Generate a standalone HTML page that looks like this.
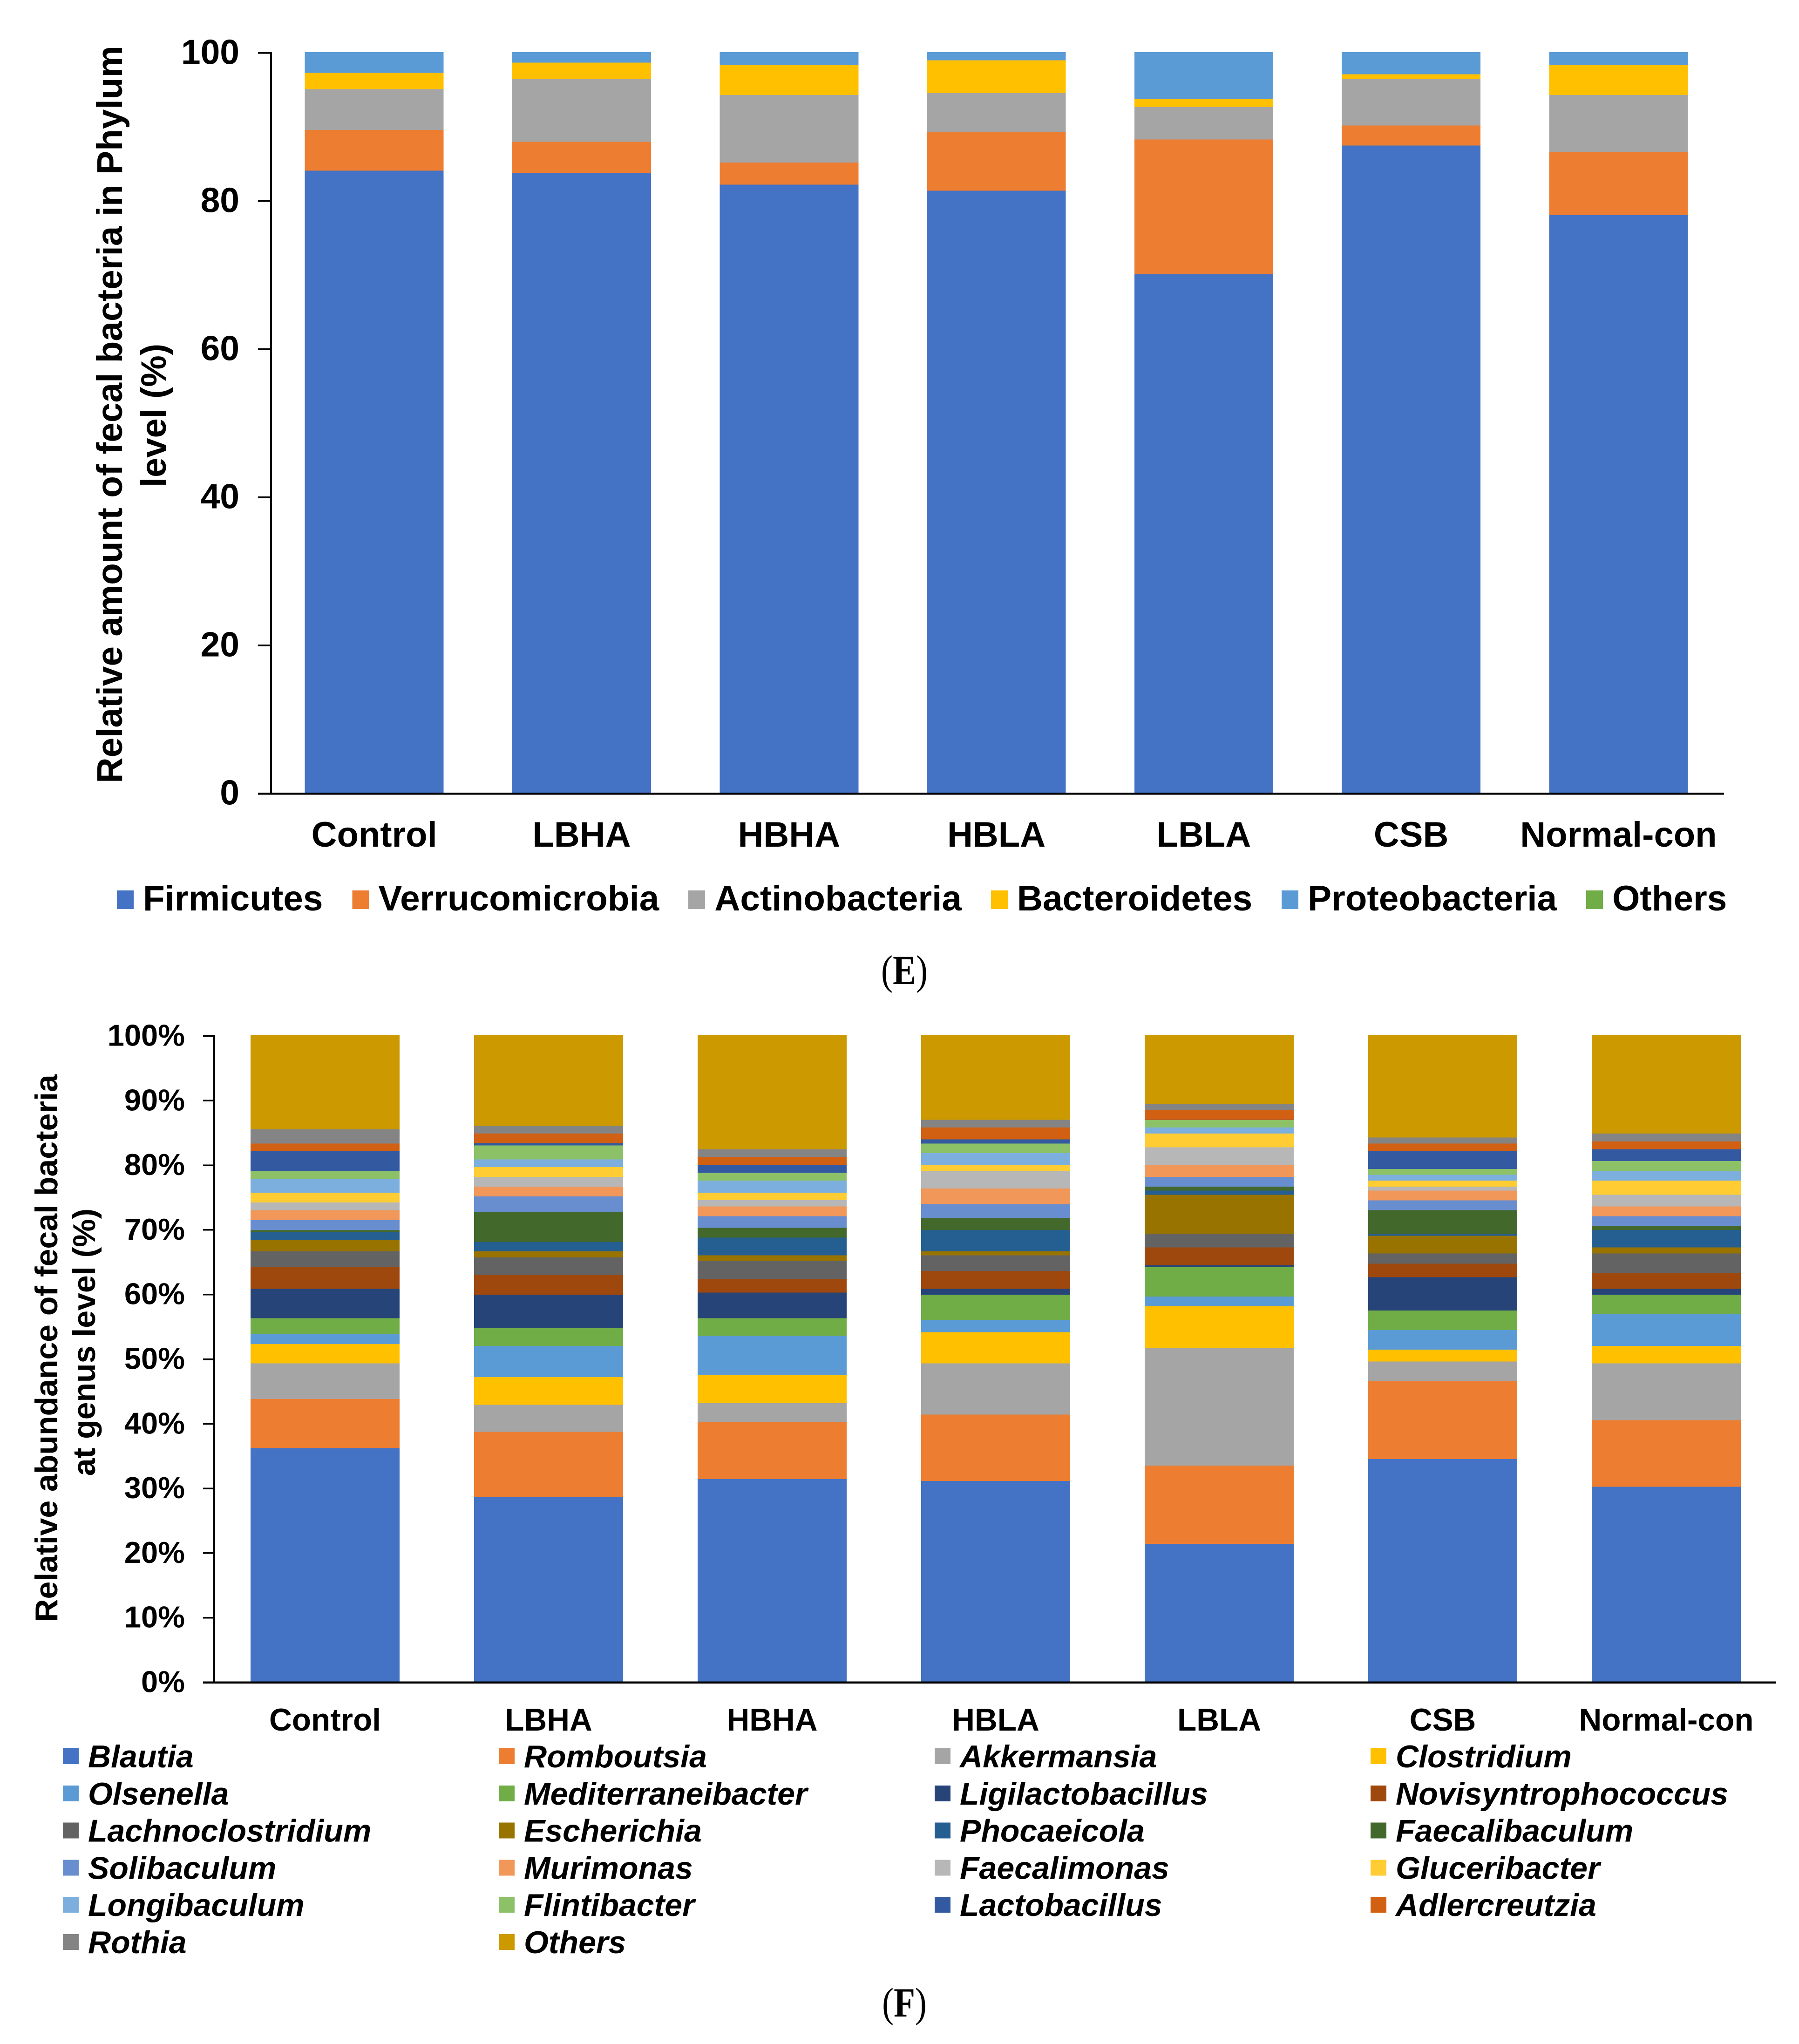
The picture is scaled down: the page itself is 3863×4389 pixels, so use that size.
<!DOCTYPE html>
<html lang="en">
<head>
<meta charset="utf-8">
<title>Relative abundance of fecal bacteria at phylum and genus level</title>
<style>
  html, body { margin: 0; padding: 0; background: #fff; }
  svg { display: block; }
  text { fill: #000; font-family: "Liberation Sans", sans-serif; font-weight: bold; }
  .serif { font-family: "Liberation Serif", serif; }
  .paren { font-weight: normal; }
</style>
</head>
<body>
<svg id="figure" xmlns="http://www.w3.org/2000/svg" width="3863" height="4389" viewBox="0 0 3863 4389">
  <rect x="0" y="0" width="3863" height="4389" fill="#ffffff"></rect>
  <g id="chartE">
    <text transform="translate(262,890) rotate(-90)" text-anchor="middle" font-size="76.6">Relative amount of fecal bacteria in Phylum</text>
    <text transform="translate(356,892) rotate(-90)" text-anchor="middle" font-size="76">level (%)</text>
  </g>
  <text class="serif" transform="translate(1942,2113) scale(1,1.18)" text-anchor="middle" font-size="75"><tspan class="paren">(</tspan>E<tspan class="paren">)</tspan></text>
  <g id="chartF">
    <text transform="translate(123,2895) rotate(-90)" text-anchor="middle" font-size="68">Relative abundance of fecal bacteria</text>
    <text transform="translate(204,2882) rotate(-90)" text-anchor="middle" font-size="68">at genus level (%)</text>
  </g>
  <text class="serif" transform="translate(1942,4330) scale(1,1.18)" text-anchor="middle" font-size="75"><tspan class="paren">(</tspan>F<tspan class="paren">)</tspan></text>
</svg>
<script>
/* ---------- shared categories ---------- */
const categories = ['Control', 'LBHA', 'HBHA', 'HBLA', 'LBLA', 'CSB', 'Normal-con'];

/* ---------- panel E: phylum level (%) ---------- */
const phylumNames = ['Firmicutes', 'Verrucomicrobia', 'Actinobacteria', 'Bacteroidetes', 'Proteobacteria', 'Others'];
const phylumColors = ['#4472C4', '#ED7D31', '#A5A5A5', '#FFC000', '#5B9BD5', '#70AD47'];
const firmicutes      = [84.0, 83.7, 82.1, 81.3, 70.0, 87.4, 78.0];
const verrucomicrobia = [5.5, 4.2, 3.0, 7.9, 18.2, 2.7, 8.5];
const actinobacteria  = [5.5, 8.5, 9.1, 5.3, 4.4, 6.3, 7.7];
const bacteroidetes   = [2.2, 2.2, 4.1, 4.4, 1.1, 0.6, 4.1];
const proteobacteria  = [2.8, 1.4, 1.7, 1.1, 6.3, 3.0, 1.7];
const phylumOthers    = [0, 0, 0, 0, 0, 0, 0];
const phylumTicks = [0, 20, 40, 60, 80, 100];

/* ---------- panel F: genus level (%) ---------- */
const genusNames = ['Blautia', 'Romboutsia', 'Akkermansia', 'Clostridium', 'Olsenella', 'Mediterraneibacter', 'Ligilactobacillus', 'Novisyntrophococcus', 'Lachnoclostridium', 'Escherichia', 'Phocaeicola', 'Faecalibaculum', 'Solibaculum', 'Murimonas', 'Faecalimonas', 'Gluceribacter', 'Longibaculum', 'Flintibacter', 'Lactobacillus', 'Adlercreutzia', 'Rothia', 'Others'];
const genusColors = ['#4472C4', '#ED7D31', '#A5A5A5', '#FFC000', '#5B9BD5', '#70AD47', '#264478', '#9E480E', '#636363', '#997300', '#255E91', '#43682B', '#698ED0', '#F1975A', '#B7B7B7', '#FFCD33', '#7CAFDD', '#8CC168', '#335AA1', '#D26012', '#848484', '#CC9A00'];
const blautia            = [36.1, 28.5, 31.3, 31.0, 21.3, 34.4, 30.1];
const romboutsia         = [7.6, 10.1, 8.8, 10.3, 12.1, 12.04, 10.3];
const akkermansia        = [5.5, 4.2, 3.0, 7.9, 18.23, 3.06, 8.8];
const clostridium        = [3.0, 4.27, 4.26, 4.85, 6.39, 1.83, 2.72];
const olsenella          = [1.55, 4.85, 6.11, 1.84, 1.51, 3.02, 4.89];
const mediterraneibacter = [2.45, 2.76, 2.72, 3.93, 4.56, 3.05, 3.01];
const ligilactobacillus  = [4.54, 5.15, 3.97, 0.92, 0.29, 5.14, 0.92];
const novisyntrophococcus = [3.35, 3.05, 2.13, 2.76, 2.76, 2.1, 2.43];
const lachnoclostridium  = [2.43, 2.72, 2.72, 2.43, 2.13, 1.56, 3.03];
const escherichia        = [1.8, 0.92, 0.92, 0.59, 6.03, 2.74, 0.94];
const phocaeicola        = [1.25, 1.47, 2.72, 3.34, 0.63, 0.3, 2.72];
const faecalibaculum     = [0.25, 4.59, 1.51, 1.84, 0.62, 3.67, 0.63];
const solibaculum        = [1.55, 2.47, 1.83, 2.13, 1.51, 1.51, 1.5];
const murimonas          = [1.51, 1.5, 1.51, 2.43, 1.84, 1.51, 1.51];
const faecalimonas       = [1.21, 1.51, 0.96, 2.72, 2.72, 0.62, 1.8];
const gluceribacter      = [1.51, 1.51, 1.14, 0.92, 2.13, 0.92, 2.17];
const longibaculum       = [2.16, 1.21, 1.87, 1.84, 0.96, 0.92, 1.47];
const flintibacter       = [1.22, 2.13, 1.22, 1.47, 1.14, 0.88, 1.58];
const lactobacillus      = [3.05, 0.33, 1.21, 0.66, 0.03, 2.76, 1.8];
const adlercreutzia      = [1.17, 1.51, 1.21, 1.84, 1.51, 1.18, 1.22];
const rothia             = [2.2, 1.21, 1.22, 1.17, 0.96, 0.95, 1.21];
const genusOthers        = [14.6, 14.04, 17.67, 13.12, 10.65, 15.84, 15.25];
const genusTicks = [0, 10, 20, 30, 40, 50, 60, 70, 80, 90, 100];

const phylumSeries = [firmicutes, verrucomicrobia, actinobacteria, bacteroidetes, proteobacteria, phylumOthers];
const genusSeries = [blautia, romboutsia, akkermansia, clostridium, olsenella, mediterraneibacter, ligilactobacillus, novisyntrophococcus, lachnoclostridium, escherichia, phocaeicola, faecalibaculum, solibaculum, murimonas, faecalimonas, gluceribacter, longibaculum, flintibacter, lactobacillus, adlercreutzia, rothia, genusOthers];

/* ---------- drawing helpers ---------- */
const SVG_NS = 'http://www.w3.org/2000/svg';
const slug = function (s) { return s.toLowerCase().replace(/[^a-z0-9]+/g, '-'); };

function makeRect(parent, x, y, w, h, fill) {
  const r = document.createElementNS(SVG_NS, 'rect');
  r.setAttribute('x', x);
  r.setAttribute('y', y);
  r.setAttribute('width', w);
  r.setAttribute('height', h);
  r.setAttribute('fill', fill);
  r.setAttribute('shape-rendering', 'crispEdges');
  parent.appendChild(r);
  return r;
}

function makeText(parent, x, y, str, size, anchor, italic) {
  const t = document.createElementNS(SVG_NS, 'text');
  t.setAttribute('x', x);
  t.setAttribute('y', y);
  t.setAttribute('font-size', size);
  t.setAttribute('text-anchor', anchor);
  if (italic) t.setAttribute('font-style', 'italic');
  t.textContent = str;
  parent.appendChild(t);
  return t;
}

function drawChart(cfg) {
  const g = document.getElementById(cfg.id);
  const xBand = function (i) { return cfg.xStart + cfg.xStep * (i + 0.5); };
  const yScale = function (v) { return cfg.yZero - cfg.yUnit * v; };

  /* stacked bars */
  cfg.series.forEach(function (values, s) {
    values.forEach(function (v, i) {
      let base = 0;
      for (let k = 0; k < s; k++) base += cfg.series[k][i];
      if (v <= 0) return;
      const top = yScale(base + v);
      const bar = makeRect(g, xBand(i) - cfg.barWidth / 2, top, cfg.barWidth, yScale(base) - top, cfg.colors[s]);
      
      
    });
  });

  /* y axis line */
  const yAxis = makeRect(g, cfg.axisX - 2, yScale(100), 4, cfg.axisY - yScale(100), '#000');
  
  

  /* x axis line */
  const xAxis = makeRect(g, cfg.axisLeft, cfg.axisY - 2, cfg.axisRight - cfg.axisLeft, 4.5, '#000');
  
  

  /* y ticks and labels */
  cfg.ticks.forEach(function (v) {
    const ty = yScale(v) + cfg.tickOffset;
    const tick = makeRect(g, cfg.axisLeft, ty - 1.75, cfg.axisX - cfg.axisLeft, 3.5, '#000');
    
    
    const lab = makeText(g, cfg.tickLabelX, ty + cfg.tickBaseline, v + cfg.tickSuffix, cfg.tickFont, 'end', false);
    
    
  });

  /* category labels */
  categories.forEach(function (c, i) {
    const lab = makeText(g, xBand(i), cfg.catBaseline, c, cfg.catFont, 'middle', false);
    
    
  });
}

/* ---------- panel E ---------- */
drawChart({
  id: 'chartE', prefix: 'phylum', series: phylumSeries, names: phylumNames, colors: phylumColors,
  xStart: 581, xStep: 445.3, barWidth: 298, yZero: 1702, yUnit: 15.9, axisX: 582, axisY: 1704,
  axisLeft: 554, axisRight: 3702, ticks: phylumTicks, tickOffset: 1.5, tickLabelX: 514, tickBaseline: 24,
  tickSuffix: '', tickFont: 75, catBaseline: 1818, catFont: 76
});

/* legend E: a single flowing row */
(function () {
  const g = document.getElementById('chartE');
  let cursor = 251;
  phylumNames.forEach(function (name, s) {
    const sw = makeRect(g, cursor, 1912, 36, 40, phylumColors[s]);
    
    
    const t = makeText(g, cursor + 56, 1955, name, 76.4, 'start', false);
    
    
    cursor = cursor + 56 + t.getComputedTextLength() + 63;
  });
})();

/* ---------- panel F ---------- */
drawChart({
  id: 'chartF', prefix: 'genus', series: genusSeries, names: genusNames, colors: genusColors,
  xStart: 458, xStep: 480, barWidth: 320, yZero: 3610.5, yUnit: 13.88, axisX: 460, axisY: 3612.7,
  axisLeft: 436, axisRight: 3814, ticks: genusTicks, tickOffset: 2, tickLabelX: 397, tickBaseline: 21,
  tickSuffix: '%', tickFont: 65, catBaseline: 3716, catFont: 67.5
});

/* legend F: four columns */
(function () {
  const g = document.getElementById('chartF');
  genusNames.forEach(function (name, s) {
    const col = s % 4;
    const row = Math.floor(s / 4);
    const sx = 135 + col * 936;
    const sy = 3754 + row * 79.8;
    const sw = makeRect(g, sx, sy, 34, 34, genusColors[s]);
    
    
    const t = makeText(g, sx + 54, sy + 41, name, 68, 'start', true);
    
    
  });
})();
</script>
</body>
</html>
